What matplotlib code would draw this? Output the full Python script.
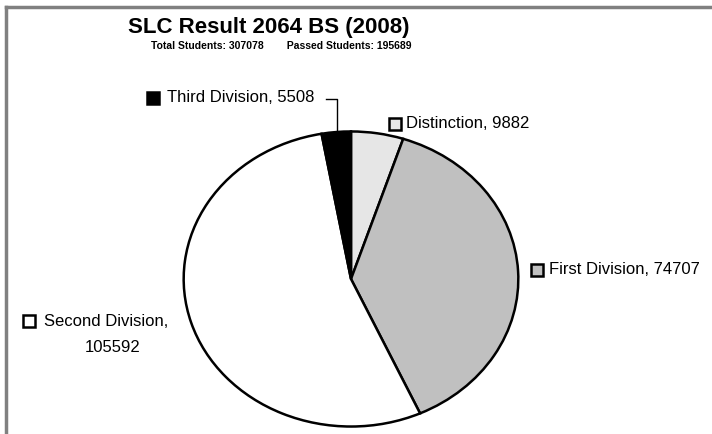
import matplotlib.pyplot as plt
from matplotlib.lines import Line2D

plt.rcParams['font.family'] = ['Liberation Sans', 'DejaVu Sans']

# data
categories = ['Distinction', 'First Division', 'Second Division', 'Third Division']
students = [9882, 74707, 105592, 5508]
colours = ['#e6e6e6', '#c0c0c0', '#ffffff', '#000000']
total_students = 307078
passed_students = 195689

W, H = 712, 434
fig = plt.figure(figsize=(W / 100, H / 100), dpi=100)


def fx(px):
    return px / W


def fy(py):
    # pixel row from top -> figure fraction
    return 1 - py / H


# pie sits in a slightly squashed box, like the original
cx, cy, rx, ry = 351, 279, 169, 149
ax = fig.add_axes([fx(cx - rx), fy(cy + ry), 2 * rx / W, 2 * ry / H])
wedges, _ = ax.pie(students, colors=colours, startangle=90, counterclock=False,
                   radius=1, wedgeprops=dict(edgecolor='black', linewidth=1.8))
ax.set_aspect('auto')
ax.set_xlim(-1.01, 1.01)
ax.set_ylim(-1.01, 1.01)
ax.axis('off')

# titles
fig.text(fx(269), fy(27), 'SLC Result 2064 BS (2008)', ha='center', va='center',
         fontsize=16, fontweight='bold')
fig.text(fx(281), fy(46),
         f'Total Students: {total_students}        Passed Students: {passed_students}',
         ha='center', va='center', fontsize=7.5, fontweight='bold')

# data labels with little key boxes: key centre, text start
label_pos = {
    'Distinction': ((395, 124), (406, 124)),
    'First Division': ((537, 270), (549, 270)),
    'Second Division': ((29, 321), (44, 321)),
    'Third Division': ((153, 98), (167, 98)),
}
for name, val, col in zip(categories, students, colours):
    (kx, ky), (tx, ty) = label_pos[name]
    fig.add_artist(Line2D([fx(kx)], [fy(ky)], marker='s', markersize=8.5,
                          markerfacecolor=col, markeredgecolor='black',
                          markeredgewidth=1.8, transform=fig.transFigure))
    if name == 'Second Division':
        fig.text(fx(tx), fy(ty), f'{name},', ha='left', va='center', fontsize=12)
        fig.text(fx(113), fy(347), f'{val}', ha='center', va='center', fontsize=12)
    else:
        fig.text(fx(tx), fy(ty), f'{name}, {val}', ha='left', va='center', fontsize=12)

# leader line for the small black slice
fig.add_artist(Line2D([fx(326), fx(337), fx(337)], [fy(99), fy(99), fy(132)],
                      color='black', linewidth=1, transform=fig.transFigure))

# grey frame (top and left only, picture is cropped)
fig.add_artist(Line2D([fx(6), fx(712)], [fy(7), fy(7)], color='#808080',
                      linewidth=2.5, transform=fig.transFigure))
fig.add_artist(Line2D([fx(6), fx(6)], [fy(7), fy(434)], color='#808080',
                      linewidth=2.5, transform=fig.transFigure))

fig.savefig('out.png', dpi=100)
